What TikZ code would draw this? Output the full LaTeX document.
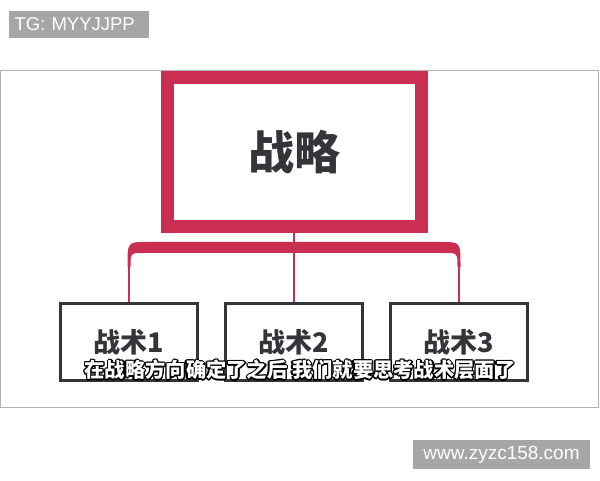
\documentclass[tikz,border=0pt]{standalone}
\usepackage{fontspec}
\setmainfont{Liberation Sans}
\newfontfamily\cjk{Noto Sans CJK SC}
\usetikzlibrary{positioning}
\definecolor{crimson}{RGB}{202,46,80}
\definecolor{ink}{RGB}{52,52,58}
\definecolor{tag}{RGB}{166,166,166}
\definecolor{rim}{RGB}{178,178,178}
\newcommand\subline{在战略方向确定了之后 我们就要思考战术层面了}

\begin{document}
\begin{tikzpicture}[
        x = 1pt, y = 1pt,
   tagbox/.style = {fill=tag, text=white, inner sep=0pt,
                    font=\fontsize{18.5}{18.5}\selectfont},
 strategy/.style = {draw=crimson, line width=13pt, minimum width=254pt,
                    minimum height=149pt, text=ink,
                    font=\cjk\bfseries\fontsize{46}{46}\selectfont},
   tactic/.style = {draw=ink, line width=3pt, minimum width=137pt,
                    minimum height=77pt, text=ink,
                    font=\cjk\bfseries\fontsize{27}{27}\selectfont},
      leg/.style = {crimson, line width=2.5pt},
 subtitle/.style = {inner sep=0pt, font=\cjk\bfseries\fontsize{20.3}{20.3}\selectfont}
                        ]
\useasboundingbox (0,0) rectangle (600,480);
% tags
    \node[tagbox, text width=129pt, align=left, inner xsep=5.5pt, minimum height=27pt] (tg) at (79,455.5) {TG: MYYJJPP};
    \node[tagbox, minimum width=177pt, minimum height=29pt, font=\fontsize{19}{19}\selectfont] (url) at (501.5,25.5) {www.zyzc158.com};
% frame
    \draw[rim, line width=1pt] (0.5,73) rectangle (598.5,409);
% boxes
    \node[strategy] (strat) at (294,328) {战略};
    \node[tactic, below=69pt of strat] (t2) {战术2};
    \node[tactic, left=25pt of t2] (t1) {战术1};
    \node[tactic, right=25pt of t2] (t3) {战术3};
% connectors
    \draw[leg] (strat.south) -- (t2.north);
    \draw[leg] (t1.north) -- ++(0,36) coordinate (l1);
    \draw[leg] (t3.north) -- ++(0,36) coordinate (l3);
    \fill[crimson] (127.5,213) .. controls (127.5,238) .. (146,238) -- (442,238)
        .. controls (460.5,238) .. (460.5,213) -- (457.5,213)
        .. controls (457.5,227) .. (445,227) -- (143,227)
        .. controls (130.5,227) .. (130.5,213) -- cycle;
% subtitle
    \foreach \a in {0,30,...,330}
        \node[subtitle, text=black] at ([shift={(\a:1.4pt)}]300,110) {\subline};
    \node[subtitle, text=white] (sub) at (300,110) {\subline};
\end{tikzpicture}
\end{document}
